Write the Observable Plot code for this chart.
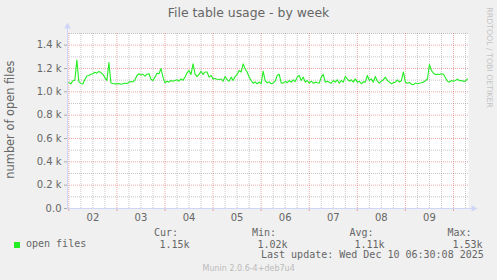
<!DOCTYPE html>
<html>
<head>
<meta charset="utf-8">
<script src="https://cdn.jsdelivr.net/npm/d3@7"></script>
<script src="https://cdn.jsdelivr.net/npm/@observablehq/plot@0.6"></script>
<style>
  html, body { margin: 0; padding: 0; background: #f0f0f0; }
  #wrap { position: relative; width: 497px; height: 280px; background: #f0f0f0; overflow: hidden; }
  #chart { position: absolute; left: 0; top: 0; }
  .t { position: absolute; white-space: pre; color: #666; }
  .sans { font-family: "DejaVu Sans", sans-serif; }
  .mono { font-family: "DejaVu Sans Mono", monospace; font-size: 10px; line-height: 11.64px; }
</style>
</head>
<body>
<div id="wrap"><div id="chart"></div></div>
<script>
// ---- data (hourly averages of open files) ----
const day02 = [1080,1068,1095,1100,1272,1085,1072,1068,1105,1135,1140,1150,1155,1168,1160,1175,1165,1150,1120,1098,1250,1078,1072,1068];
const day03 = [1068,1072,1065,1070,1075,1070,1083,1088,1085,1103,1140,1155,1145,1150,1135,1150,1155,1108,1097,1126,1160,1155,1200,1126];
const day04 = [1077,1091,1083,1097,1090,1097,1103,1091,1111,1100,1126,1163,1183,1149,1240,1154,1131,1150,1177,1149,1170,1170,1126,1140];
const day05 = [1111,1115,1108,1106,1110,1091,1131,1105,1091,1126,1097,1131,1149,1183,1170,1240,1197,1170,1126,1097,1074,1085,1069,1083];
const day06 = [1069,1177,1097,1077,1085,1069,1075,1091,1140,1150,1077,1074,1090,1078,1097,1083,1103,1088,1126,1140,1097,1126,1083,1097];
const day07 = [1074,1091,1074,1083,1078,1074,1126,1150,1083,1091,1083,1074,1097,1083,1103,1074,1097,1083,1131,1111,1091,1103,1083,1111];
const day08 = [1083,1091,1069,1085,1083,1140,1097,1111,1083,1131,1091,1074,1091,1103,1126,1097,1083,1069,1077,1083,1103,1083,1097,1170];
const day09 = [1083,1074,1080,1065,1062,1075,1070,1074,1078,1083,1095,1110,1234,1183,1160,1149,1150,1149,1155,1150,1120,1090,1083,1097];
const day10 = [1090,1097,1109,1095,1097,1090,1092,1111];

const dayLabels = ["02","03","04","05","06","07","08","09"];
const yTicks = [0,200,400,600,800,1000,1200,1400];
const yTickLabels = ["0.0","0.2 k","0.4 k","0.6 k","0.8 k","1.0 k","1.2 k","1.4 k"];
const yMinorGrid = [100,300,500,700,900,1100,1300,1500];
const legendHeaders = ["Cur:","Min:","Avg:","Max:"];
const legendValues = ["1.15k","1.02k","1.11k","1.53k"];
const seriesName = "open files";
const titleText = "File table usage - by week";
const yLabelText = "number of open files";
const lastUpdate = "Last update: Wed Dec 10 06:30:08 2025";
const versionText = "Munin 2.0.6-4+deb7u4";
const sideText = "RRDTOOL / TOBI OETIKER";
const lineColor = "#22ee22";

// ---- build table ----
const seriesStart = Date.UTC(2025, 11, 2, 0, 0);
const values = [].concat(day02, day03, day04, day05, day06, day07, day08, day09, day10);
const data = values.map((v, i) => ({ t: new Date(seriesStart + i * 3600e3), v }));

const x0 = new Date(Date.UTC(2025, 11, 1, 23, 20));
const x1 = new Date(Date.UTC(2025, 11, 10, 7, 30));
const dayStarts = d3.utcDay.range(new Date(Date.UTC(2025,11,2)), x1);
const sixHours = d3.utcHour.every(6).range(x0, x1).filter(d => d.getUTCHours() !== 0);
const noons = dayLabels.map(l => new Date(Date.UTC(2025, 11, +l, 12)));

const gridGray = "rgba(143,143,143,0.5)";
const gridRed = "rgba(222,81,81,0.5)";
const axisColor = "#CFD6F8";

const chart = Plot.plot({
  width: 497, height: 280,
  marginLeft: 67, marginRight: 29, marginTop: 33, marginBottom: 72,
  style: { background: "transparent", fontFamily: "DejaVu Sans, sans-serif", fontSize: "10px", color: "#666" },
  x: { type: "utc", domain: [x0, x1] },
  y: { domain: [0, 1500] },
  marks: [
    Plot.frame({ fill: "white", stroke: "none" }),
    Plot.ruleY(yMinorGrid, { stroke: gridGray, strokeDasharray: "1,1" }),
    Plot.ruleX(sixHours, { stroke: gridGray, strokeDasharray: "1,1" }),
    Plot.ruleY(yTicks.filter(d => d > 0), { stroke: gridRed, strokeDasharray: "1,1" }),
    Plot.ruleX(dayStarts, { stroke: gridRed, strokeDasharray: "1,1" }),
    Plot.axisY({ ticks: yTicks, tickSize: 3, tickPadding: 3, label: null,
      tickFormat: d => yTickLabels[yTicks.indexOf(d)], stroke: "#aaa", fill: "#666" }),
    Plot.axisX({ ticks: dayStarts, tickSize: 3, text: null, label: null, stroke: gridRed }),
    Plot.axisX({ ticks: noons, tickSize: 0, tickPadding: 5, label: null,
      tickFormat: d => d3.utcFormat("%d")(d), fill: "#666" }),
    Plot.ruleY([0], { x1: x0, x2: new Date(+x1 + 3 * 3600e3), stroke: axisColor }),
    Plot.ruleX([x0], { y1: 0, y2: 1560, stroke: axisColor }),
    Plot.dot([x0], { x: d => d, y: [1560], symbol: "triangle", r: 2.5, fill: axisColor, stroke: "none" }),
    Plot.dot([0], { x: [new Date(+x1 + 2.5 * 3600e3)], y: d => d, symbol: "triangle", r: 2.5, rotate: 90, fill: axisColor, stroke: "none" }),
    Plot.lineY(data, { x: "t", y: "v", stroke: lineColor, strokeWidth: 1.1 })
  ]
});
const wrap = document.getElementById("wrap");
document.getElementById("chart").appendChild(chart);

function addText(txt, cls, left, baseline, fs, extra) {
  const d = document.createElement("div");
  d.className = "t " + cls;
  d.textContent = txt;
  d.style.left = left + "px";
  d.style.top = (baseline - 0.928 * fs) + "px";
  if (cls === "sans") { d.style.fontSize = fs + "px"; d.style.lineHeight = (1.164 * fs) + "px"; }
  Object.assign(d.style, extra || {});
  wrap.appendChild(d);
  return d;
}
// title
addText(titleText, "sans", 0, 18, 12.4, { width: "497px", textAlign: "center" });
// y label rotated
(function () {
  const fs = 11.4, h = 1.164 * fs, w = 200, cx = 11, cy = 120;
  const d = addText(yLabelText, "sans", cx - w / 2, 0, fs, { width: w + "px", textAlign: "center",
    top: (cy - h / 2) + "px", transform: "rotate(-90deg)", transformOrigin: "50% 50%" });
})();
// side text
(function () {
  const fs = 7.8, h = 1.164 * fs, w = 200, cx = 488.7, cy = 57.5;
  addText(sideText, "sans", cx - w / 2, 0, fs, { width: w + "px", textAlign: "center",
    top: (cy - h / 2) + "px", transform: "rotate(90deg)", transformOrigin: "50% 50%", color: "#c4c4c4" });
})();
// legend
const sw = document.createElement("div");
Object.assign(sw.style, { position: "absolute", left: "14px", top: "242px", width: "6px", height: "6px", background: lineColor });
wrap.appendChild(sw);
addText(seriesName, "mono", 26, 247.5, 10);
const headX = [154, 252, 349.5, 447.5];
const valX = [159.5, 257.5, 354.5, 452.5];
legendHeaders.forEach((h, i) => addText(h, "mono", headX[i], 236.5, 10));
legendValues.forEach((v, i) => addText(v, "mono", valX[i], 247.8, 10));
addText(lastUpdate, "mono", 261, 258.5, 10);
addText(versionText, "sans", 202.5, 271.5, 8, { color: "#bbb" });
</script>
</body>
</html>
